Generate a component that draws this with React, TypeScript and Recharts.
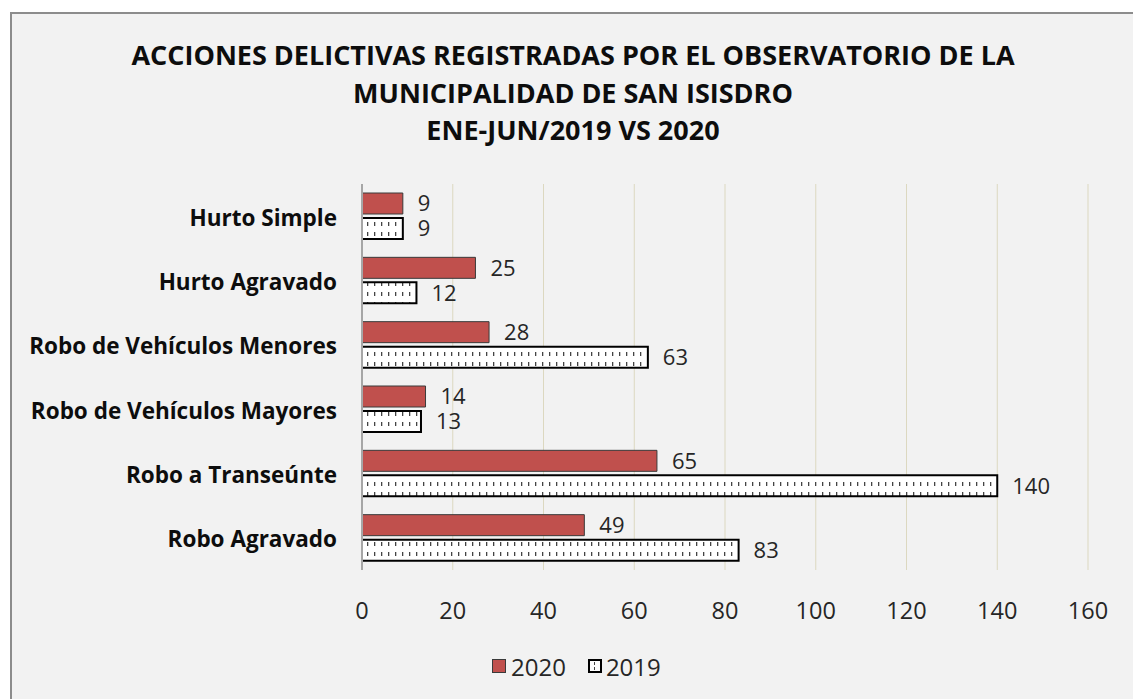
import { BarChart, Bar, XAxis, YAxis, CartesianGrid, LabelList } from 'recharts'

const categories = [
  'Hurto Simple',
  'Hurto Agravado',
  'Robo de Vehículos Menores',
  'Robo de Vehículos Mayores',
  'Robo a Transeúnte',
  'Robo Agravado',
]
const values2020 = [9, 25, 28, 14, 65, 49]
const values2019 = [9, 12, 63, 13, 140, 83]
const xTicks = [0, 20, 40, 60, 80, 100, 120, 140, 160]
const titleLines = [
  'ACCIONES DELICTIVAS REGISTRADAS POR EL OBSERVATORIO DE LA',
  'MUNICIPALIDAD DE SAN ISISDRO',
  'ENE-JUN/2019 VS 2020',
]

const data = categories.map((name, i) => ({
  name,
  y2020: values2020[i],
  y2019: values2019[i],
}))

const FONT = '"Open Sans", sans-serif'
const RED = '#c0504d'

function CategoryTick({ x, y, payload }: { x?: number; y?: number; payload?: { value: string } }) {
  if (!payload) return null
  return (
    <text x={x} y={y} dy={1} textAnchor="end" dominantBaseline="central" fontFamily={FONT} fontWeight={700} fontSize={22.5} fill="#0d0d0d">
      {payload.value}
    </text>
  )
}

function PatternSwatch() {
  return (
    <svg width={14} height={14} style={{ display: 'block' }}>
      <rect x={1} y={1} width={12} height={12} fill="#fff" stroke="#000" strokeWidth={2} />
      <rect x={6} y={3} width={1} height={3} fill="#444" />
      <rect x={6} y={8} width={1} height={3} fill="#444" />
    </svg>
  )
}

export default function App() {
  return (
    <div style={{ position: 'absolute', left: 0, top: 0, width: 1133, height: 699, background: '#fff', overflow: 'hidden' }}>
      <div
        style={{
          position: 'absolute',
          left: 10,
          top: 12,
          width: 1140,
          height: 700,
          background: '#f2f2f2',
          borderLeft: '2px solid #8c8c8c',
          borderTop: '2px solid #8c8c8c',
        }}
      />
      <div style={{ position: 'absolute', left: 0, top: 36, width: 1146, textAlign: 'center', fontFamily: FONT, fontWeight: 700, fontSize: 27, lineHeight: '37.5px', color: '#0d0d0d' }}>
        {titleLines.map((t) => (
          <div key={t}>{t}</div>
        ))}
      </div>
      <div style={{ position: 'absolute', left: 0, top: 0 }}>
        <BarChart
          layout="vertical"
          width={1133}
          height={699}
          data={data}
          margin={{ top: 184, right: 45, bottom: 69, left: 0 }}
          barGap={4}
        >
          <defs>
            <pattern id="dashV" width={7} height={10} patternUnits="userSpaceOnUse">
              <rect width={7} height={10} fill="#fff" />
              <rect x={3} y={2} width={1.3} height={4} fill="#444" />
            </pattern>
          </defs>
          <CartesianGrid horizontal={false} stroke="#dcd8c0" strokeWidth={1} />
          <XAxis
            type="number"
            domain={[0, 160]}
            ticks={xTicks}
            axisLine={false}
            tickLine={false}
            height={60}
            tickMargin={26}
            tick={{ fontFamily: FONT, fontSize: 23.5, fill: '#262626' }}
          />
          <YAxis
            type="category"
            dataKey="name"
            width={362}
            axisLine={{ stroke: '#a6a6a6', strokeWidth: 2 }}
            tickLine={false}
            tickMargin={19}
            tick={<CategoryTick />}
          />
          <Bar dataKey="y2020" fill={RED} stroke="#3a3a3a" strokeWidth={1} barSize={21} isAnimationActive={false}>
            <LabelList dataKey="y2020" position="right" offset={15} fontFamily={FONT} fontSize={22} fill="#262626" />
          </Bar>
          <Bar dataKey="y2019" fill="url(#dashV)" stroke="#000" strokeWidth={2} barSize={21} isAnimationActive={false}>
            <LabelList dataKey="y2019" position="right" offset={15} fontFamily={FONT} fontSize={22} fill="#262626" />
          </Bar>
        </BarChart>
      </div>
      <div style={{ position: 'absolute', left: 492, top: 650, height: 32, fontFamily: FONT, fontSize: 24, color: '#262626', display: 'flex', alignItems: 'center', whiteSpace: 'nowrap' }}>
        <span style={{ display: 'inline-block', width: 12, height: 12, background: RED, border: '1px solid #3a3a3a', marginRight: 5 }} />
        <span>2020</span>
        <span style={{ marginLeft: 22, marginRight: 4 }}>
          <PatternSwatch />
        </span>
        <span>2019</span>
      </div>
    </div>
  )
}
